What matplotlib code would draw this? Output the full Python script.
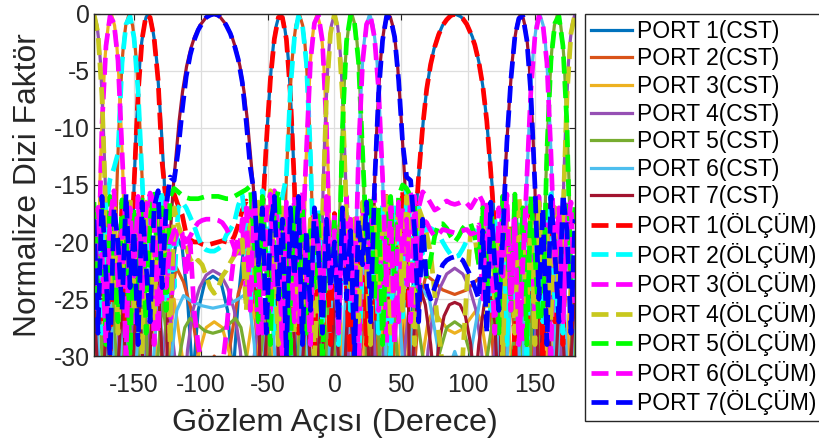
import numpy as np
import matplotlib
matplotlib.use('Agg')
import matplotlib.pyplot as plt

plt.rcParams['font.family'] = ['Liberation Sans', 'DejaVu Sans']
plt.rcParams['axes.unicode_minus'] = False

# CST simulation curves, (angle [deg], normalized array factor [dB])
port1_cst = [(-180, -25.5), (-179.6, -25), (-174.3, -36), (-169, -23), (-163.6, -36), (-158.1, -20), (-152.4, -36),
             (-151.8, -25), (-150.8, -19), (-149.9, -14.6), (-148.5, -10.5), (-147.2, -7.5), (-145.7, -4.3), (-144.3, -2.5),
             (-142.5, -1), (-141, -0.3), (-139.6, 0), (-138.1, -0.3), (-136.5, -1), (-134.5, -2.5), (-132.9, -4.3),
             (-131, -7.5), (-129.4, -10.5), (-127.4, -14.6), (-126.1, -19), (-124.6, -25), (-123.6, -36),
             (-121, -22), (-118, -19.5), (-114, -20.5), (-110, -25), (-106, -32), (-102, -26), (-97, -23.5), (-91, -23),
             (-85, -23.5), (-80, -26), (-76, -32), (-72, -25), (-68, -20.5), (-64, -19.5), (-60, -22), (-56.4, -36),
             (-55.4, -25), (-53.9, -19), (-52.6, -14.6), (-50.6, -10.5), (-49, -7.5), (-47.1, -4.3), (-45.5, -2.5),
             (-43.5, -1), (-41.9, -0.3), (-40.4, 0), (-38.9, -0.3), (-37.5, -1), (-35.7, -2.5), (-34.3, -4.3),
             (-32.8, -7.5), (-31.5, -10.5), (-30.1, -14.6), (-29.2, -19), (-28.2, -25), (-27.6, -36),
             (-21.9, -20), (-16.4, -36), (-11, -23), (-5.7, -36), (-0.4, -25), (4.8, -36), (10.1, -26), (15.5, -36),
             (21, -25), (26.7, -36), (32.8, -23), (39.3, -36), (46.4, -20.5), (55.5, -36),
             (58.6, -24.5), (60.4, -19), (62.3, -15.2), (64.2, -12.6), (66.5, -9.3), (68.8, -6.8), (71.6, -4.6),
             (74.4, -3.1), (77.2, -2.0), (80.9, -1.0), (85.6, -0.25), (90.2, 0), (94.8, -0.25), (99.5, -1.0),
             (103.2, -2.0), (106, -3.1), (108.8, -4.6), (111.6, -6.8), (113.9, -9.3), (116.2, -12.6), (118.1, -15.2),
             (120, -19), (121.8, -24.5), (123.2, -36),
             (133.6, -20), (140.7, -36), (147.2, -23), (153.3, -36), (159, -25), (164.5, -36), (169.9, -26),
             (175.2, -36), (180, -25.5)]

port2_cst = [(-180, -24), (-179.2, -24), (-175.6, -36), (-170.3, -21), (-165, -36),
             (-164.4, -25), (-163.6, -19), (-162.7, -14.6), (-161.5, -10.5), (-160.4, -7.5), (-159, -4.3),
             (-157.8, -2.5), (-156.2, -1), (-153.7, 0), (-151.1, -1), (-149.5, -2.5), (-148.1, -4.3), (-146.6, -7.5),
             (-145.4, -10.5), (-143.9, -14.6), (-142.9, -19), (-141.8, -25), (-141.2, -36),
             (-134.2, -21.5), (-126, -36), (-122, -25), (-118.5, -22.2), (-113, -23.5), (-107, -26), (-102, -30),
             (-97.3, -36), (-94, -31), (-90, -30), (-86, -31), (-82.7, -36), (-78, -29), (-72, -24.5), (-65, -22.2),
             (-60, -25), (-54, -36), (-45.9, -21), (-38.8, -36),
             (-38.2, -25), (-37.1, -19), (-36.1, -14.6), (-34.6, -10.5), (-33.4, -7.5), (-31.9, -4.3), (-30.5, -2.5),
             (-28.9, -1), (-26.3, 0), (-23.8, -1), (-22.2, -2.5), (-21, -4.3), (-19.6, -7.5), (-18.5, -10.5),
             (-17.3, -14.6), (-16.4, -19), (-15.6, -25), (-15, -36),
             (-9.7, -21), (-4.4, -36), (0.8, -21.5), (6.1, -36), (11.4, -23), (16.8, -36), (22.4, -24.5), (28.2, -36),
             (34.3, -25), (40.9, -36), (48.3, -23.5), (56.9, -36),
             (63, -26), (68.4, -22.9), (74, -23.4), (81, -24.2), (90, -24.6), (99, -24.2), (106, -23.4), (111, -22.9),
             (117, -26), (121.5, -36),
             (131.7, -23.5), (139.1, -36), (145.7, -25.5), (151.8, -36), (157.6, -24.5), (163.2, -36), (168.6, -22.5),
             (173.9, -36), (179.2, -24), (180, -24)]

port3_cst = [(-180, -24), (-177.6, -36),
             (-177.1, -25), (-176.3, -19), (-175.5, -14.6), (-174.3, -10.5), (-173.2, -7.5), (-172, -4.3),
             (-170.8, -2.5), (-169.3, -1), (-167, 0), (-164.6, -1), (-163.1, -2.5), (-161.9, -4.3), (-160.6, -7.5),
             (-159.5, -10.5), (-158.2, -14.6), (-157.4, -19), (-156.4, -25), (-155.9, -36),
             (-150, -22.5), (-143.8, -36), (-137, -24.5), (-129.3, -36), (-120.1, -25), (-106.7, -36),
             (-102, -30), (-96, -27.5), (-90, -27), (-84, -27.5), (-78, -30), (-73.3, -36),
             (-59.9, -25.5), (-50.7, -36), (-43, -23), (-36.2, -36), (-30, -21.5), (-24.1, -36),
             (-23.6, -25), (-22.6, -19), (-21.8, -14.6), (-20.5, -10.5), (-19.4, -7.5), (-18.1, -4.3), (-16.9, -2.5),
             (-15.4, -1), (-13, 0), (-10.7, -1), (-9.2, -2.5), (-8.05, -4.3), (-6.8, -7.5), (-5.7, -10.5),
             (-4.5, -14.6), (-3.7, -19), (-2.9, -25), (-2.4, -36),
             (2.8, -21.5), (8.1, -36), (13.4, -23), (18.9, -36), (24.6, -25.5), (30.5, -36), (36.8, -24.5),
             (43.6, -36), (51.4, -25.5), (60.8, -36),
             (66, -30), (70, -27), (74, -26), (79, -26.8), (85, -27.7), (90, -28), (95, -27.7), (101, -26.8),
             (106, -26), (110, -27), (114, -30), (119.2, -36),
             (128.6, -25), (136.4, -36), (143.2, -24), (149.5, -36), (155.5, -22.5), (161.1, -36), (166.6, -23),
             (171.9, -36), (177.2, -21.5), (180, -24)]

port4_cst = [(-180, 0), (-177.7, -1), (-176.3, -2.5), (-175.1, -4.3), (-173.9, -7.5), (-172.8, -10.5),
             (-171.6, -14.6), (-170.8, -19), (-169.9, -25), (-169.5, -36),
             (-164, -21.5), (-158.5, -36), (-152.7, -24), (-146.7, -36), (-140.2, -27), (-133, -36), (-124.5, -25),
             (-113.8, -36), (-110, -29.5), (-106, -26), (-101, -24), (-96, -22.9), (-91, -22.5), (-85, -22.9),
             (-80, -24), (-75, -26), (-70.5, -29.5), (-66.2, -36),
             (-55.5, -25.5), (-47, -36), (-39.8, -26), (-33.3, -36), (-27.3, -23.5), (-21.5, -36), (-16, -21),
             (-10.5, -36),
             (-10.1, -25), (-9.2, -19), (-8.4, -14.6), (-7.2, -10.5), (-6.1, -7.5), (-4.9, -4.3), (-3.7, -2.5),
             (-2.3, -1), (0, 0), (2.3, -1), (3.7, -2.5), (4.9, -4.3), (6.1, -7.5), (7.2, -10.5), (8.4, -14.6),
             (9.2, -19), (10.1, -25), (10.5, -36),
             (16, -21.5), (21.5, -36), (27.3, -24), (33.3, -36), (39.8, -25.5), (47, -36), (55.5, -26), (66.2, -36),
             (70, -29.5), (74, -26), (79, -24), (84, -22.8), (90, -22.3), (96, -22.8), (101, -24), (106, -26),
             (110, -29.5), (113.8, -36),
             (124.5, -24.5), (133, -36), (140.2, -26.5), (146.7, -36), (152.7, -23.5), (158.5, -36), (164, -21),
             (169.5, -36),
             (169.9, -25), (170.8, -19), (171.6, -14.6), (172.8, -10.5), (173.9, -7.5), (175.1, -4.3), (176.3, -2.5),
             (177.7, -1), (180, 0)]

port5_cst = [(-180, -24.5), (-177.2, -21), (-171.9, -36), (-166.6, -22.5), (-161.1, -36), (-155.5, -23),
             (-149.5, -36), (-143.2, -24), (-136.4, -36), (-128.6, -25), (-119.2, -36),
             (-116, -30), (-112, -27.5), (-108, -26.7), (-103, -27.2), (-97, -27.8), (-91, -28), (-85, -27.8),
             (-79, -27.2), (-74, -26.7), (-70, -27.5), (-66, -30), (-60.8, -36),
             (-51.4, -26), (-43.6, -36), (-36.8, -24), (-30.5, -36), (-24.6, -25), (-18.9, -36), (-13.4, -23.5),
             (-8.1, -36), (-2.8, -21), (2.4, -36),
             (2.9, -25), (3.7, -19), (4.5, -14.6), (5.7, -10.5), (6.8, -7.5), (8.05, -4.3), (9.2, -2.5), (10.7, -1),
             (13, 0), (15.4, -1), (16.9, -2.5), (18.1, -4.3), (19.4, -7.5), (20.5, -10.5), (21.8, -14.6),
             (22.6, -19), (23.6, -25), (24.1, -36),
             (30, -21), (36.2, -36), (43, -23.5), (50.7, -36), (59.9, -25), (73.3, -36),
             (78, -30), (84, -27.5), (90, -27), (96, -27.5), (102, -30), (106.7, -36),
             (120.1, -25.5), (129.3, -36), (137, -24), (143.8, -36), (150, -22), (155.9, -36),
             (156.4, -25), (157.4, -19), (158.2, -14.6), (159.5, -10.5), (160.6, -7.5), (161.9, -4.3), (163.1, -2.5),
             (164.6, -1), (167, 0), (169.3, -1), (170.8, -2.5), (172, -4.3), (173.2, -7.5), (174.3, -10.5),
             (175.5, -14.6), (176.3, -19), (177.1, -25), (177.6, -36), (180, -24.5)]

port6_cst = [(-180, -24), (-179.2, -24), (-173.9, -36), (-168.6, -23), (-163.2, -36), (-157.6, -25), (-151.8, -36),
             (-145.7, -26), (-139.1, -36), (-131.5, -24), (-125.5, -36),
             (-121, -29), (-118, -26), (-113, -24.7), (-107, -25.2), (-99, -25.6), (-91, -25.8), (-83, -25.6),
             (-75, -25.2), (-68, -24.7), (-63, -26), (-60, -29), (-56.9, -36),
             (-48.3, -24), (-40.9, -36), (-34.3, -25.5), (-28.2, -36), (-22.4, -24), (-16.8, -36), (-11.4, -22.5),
             (-6.1, -36), (-0.8, -21), (4.4, -36), (9.7, -20.5), (15, -36),
             (15.6, -25), (16.4, -19), (17.3, -14.6), (18.5, -10.5), (19.6, -7.5), (21, -4.3), (22.2, -2.5),
             (23.8, -1), (26.3, 0), (28.9, -1), (30.5, -2.5), (31.9, -4.3), (33.4, -7.5), (34.6, -10.5),
             (36.1, -14.6), (37.1, -19), (38.2, -25), (38.8, -36),
             (45.9, -21), (54, -36), (58, -28), (64.2, -24), (71, -25), (77, -29), (82.7, -36), (86, -31),
             (90, -29.6), (94, -31), (97.3, -36), (103, -29), (109, -25), (115.8, -24), (122, -28), (126, -36),
             (134.2, -21), (141.2, -36),
             (141.8, -25), (142.9, -19), (143.9, -14.6), (145.4, -10.5), (146.6, -7.5), (148.1, -4.3), (149.5, -2.5),
             (151.1, -1), (153.7, 0), (156.2, -1), (157.8, -2.5), (159, -4.3), (160.4, -7.5), (161.5, -10.5),
             (162.7, -14.6), (163.6, -19), (164.4, -25), (165, -36),
             (170.3, -20.5), (175.6, -36), (180, -24)]

port7_cst = [(-180, -25), (-175.2, -36), (-169.9, -26), (-164.5, -36), (-159, -25), (-153.3, -36), (-147.2, -23),
             (-140.7, -36), (-133.6, -20), (-126.2, -36),
             (-124.7, -24.5), (-122.7, -19), (-120.7, -15.2), (-118.7, -12.6), (-116.2, -9.3), (-113.7, -6.8),
             (-110.7, -4.6), (-107.7, -3.1), (-104.7, -2.0), (-100.7, -1.0), (-95.7, -0.25), (-90.7, 0),
             (-85.7, -0.25), (-80.7, -1.0), (-76.7, -2.0), (-73.7, -3.1), (-70.7, -4.6), (-67.7, -6.8),
             (-65.2, -9.3), (-62.7, -12.6), (-60.7, -15.2), (-58.7, -19), (-56.7, -24.5), (-55.2, -36),
             (-46.4, -20), (-39.3, -36), (-32.8, -23), (-26.7, -36), (-21, -25), (-15.5, -36), (-10.1, -26),
             (-4.8, -36), (0.4, -25), (5.7, -36), (11, -23), (16.4, -36), (21.9, -20), (27.6, -36),
             (28.2, -25), (29.2, -19), (30.1, -14.6), (31.5, -10.5), (32.8, -7.5), (34.3, -4.3), (35.7, -2.5),
             (37.5, -1), (38.9, -0.3), (40.4, 0), (41.9, -0.3), (43.5, -1), (45.5, -2.5), (47.1, -4.3), (49, -7.5),
             (50.6, -10.5), (52.6, -14.6), (53.9, -19), (55.4, -25), (56.4, -36),
             (60, -27), (64, -24), (68, -25.5), (72, -29), (75, -33), (78, -29), (82, -26.5), (86, -25.5),
             (90, -25.3), (94, -25.5), (98, -26.5), (102, -29), (105, -33), (108, -29), (112, -25.5), (116, -24),
             (120, -27), (123.6, -36),
             (124.6, -25), (126.1, -19), (127.4, -14.6), (129.4, -10.5), (131, -7.5), (132.9, -4.3), (134.5, -2.5),
             (136.5, -1), (138.1, -0.3), (139.6, 0), (141.1, -0.3), (142.5, -1), (144.3, -2.5), (145.7, -4.3),
             (147.2, -7.5), (148.5, -10.5), (149.9, -14.6), (150.8, -19), (151.8, -25), (152.4, -36),
             (158.1, -20), (163.6, -36), (169, -23), (174.3, -36), (179.6, -25), (180, -25)]

# measurement curves, sampled every 3 degrees from -180 to 180
meas_deg = np.arange(-180, 181, 3)

port1_meas = [-22, -17, -27, -19, -30, -18, -25, -16.5, -28, -24,
              -15, -7, -2.2, -0.1, -0.3, -2.1, -5.8, -13, -16.5, -16,
              -15.8, -16.8, -17.6, -19.3, -19.8, -20, -20, -20.2, -20.3, -20.2,
              -20.1, -20, -19.9, -20, -20.1, -19.5, -18.5, -17.2, -16.4, -17.5,
              -19, -27, -18, -11.3, -5.8, -2.2, -0.3, -0.3, -2.2, -7,
              -15, -28, -17, -25, -19, -30, -18, -26, -21, -29,
              -17.5, -27, -20, -24, -31, -18, -25, -19, -29, -16.5,
              -27, -18, -24, -16, -29, -17.5, -22, -15.5, -26, -18,
              -19.5, -14.2, -9.9, -6.6, -4.4, -2.9, -1.8, -1.0, -0.5, -0.15,
              0, -0.15, -0.4, -0.9, -1.7, -2.7, -4.2, -6.3, -9.4, -13.9,
              -19, -27, -16, -24, -18.5, -30, -17, -23, -28, -16.5,
              -25, -18, -31, -20, -16, -27, -19, -29, -17, -23,
              -22]

port2_meas = [-24, -17, -28, -17, -14.5, -13.5, -12.2, -4.3, -0.9, -0.2,
              -2.1, -6.7, -14.3, -22, -16, -27, -18, -15.5, -25, -19,
              -24, -17, -16.5, -17, -17.8, -18.6, -19.6, -20.4, -20.7, -20.8,
              -20.8, -20.6, -20.3, -19.4, -18.9, -18.3, -16.8, -15.9, -19, -26,
              -17, -24, -15.5, -22, -17, -28, -20, -16, -14.3, -6.6,
              -2.1, -0.2, -0.9, -4.3, -12.2, -24, -17, -27, -19, -23,
              -18.5, -29, -21, -17.5, -26, -19, -31, -22, -17, -25,
              -20, -28, -16.5, -23, -30, -17, -21, -27, -15.5, -19,
              -25, -17, -21, -18.8, -18.8, -19, -19.3, -20, -20.6, -21.1,
              -21.3, -21.2, -20.6, -19.9, -19.3, -19, -19.5, -22, -17, -26,
              -18, -23, -16, -29, -19.5, -25, -17, -21, -30, -18,
              -24, -16.5, -27, -20, -15.8, -26, -19, -28, -17.5, -22,
              -24]

port3_meas = [-19, -24, -9.7, -2.8, -0.2, -0.8, -4.1, -12, -20, -16.5,
              -27, -18, -22, -17, -15.8, -29, -19, -25, -16, -28,
              -20, -19, -19.2, -20, -19.5, -18.8, -18.3, -18.1, -18, -18,
              -18, -18.1, -18.3, -18.8, -19.5, -20.5, -21.5, -18, -25, -17,
              -22, -28, -16.5, -20, -26, -15.5, -19, -30, -17, -24,
              -16, -27, -20, -12, -4.2, -0.8, -0.1, -2.4, -9.9, -24,
              -17.5, -28, -20, -16, -25, -18, -31, -17, -23, -19,
              -15.8, -26, -18, -29, -16, -21, -27, -17, -24, -15.5,
              -27, -17, -15.6, -16, -16.6, -17.2, -17, -16.6, -16.4, -16.6,
              -16.7, -16.6, -16.4, -16.6, -17, -16.4, -15.8, -16.5, -24, -17,
              -21, -28, -16.5, -19, -25, -15.8, -22, -29, -17, -20,
              -26, -16, -23, -18, -30, -17, -20, -27, -16.5, -24,
              -19]

port4_meas = [0, -1.7, -7.2, -17.8, -24, -17, -28, -19, -23, -16,
              -26, -18, -30, -16.5, -21, -27, -17, -24, -19, -29,
              -17, -18.5, -19.5, -20.5, -21.5, -22, -21.6, -22, -23, -24,
              -24.5, -24, -23, -22.5, -21.8, -21.2, -20.6, -19.8, -26, -18,
              -23, -16.5, -27, -19, -15.5, -22, -29, -17, -25, -18,
              -28, -16, -21, -26, -18, -30, -23, -17.8, -7.2, -1.7,
              0, -1.7, -7.2, -17.8, -24, -18, -27, -16.5, -22, -29,
              -17, -24, -19, -15.8, -28, -20, -17, -26, -16, -22,
              -29, -17, -18, -19.3, -21, -24.5, -28, -31, -32, -32,
              -32, -31, -30, -24, -19, -19.5, -22, -17.5, -27, -16.5,
              -25, -19, -30, -17, -22, -28, -16, -20, -26, -18,
              -29, -16.5, -23, -19, -27, -17, -24, -17.8, -7.2, -1.7,
              0]

port5_meas = [-16.5, -25, -17, -29, -16, -22, -27, -16.3, -19, -30,
              -17, -24, -16, -28, -18, -15.8, -23, -17, -26, -16,
              -15.3, -15.6, -15.9, -16.1, -16.2, -16.2, -16.2, -16.1, -16, -16,
              -16, -16, -16.1, -16.2, -16.2, -16, -15.8, -15.6, -15.4, -15.1,
              -20, -27, -16, -22, -29, -17, -15.5, -25, -18, -30,
              -17, -23, -16.5, -28, -19, -24, -17.5, -31, -20, -24,
              -18, -24, -9.9, -2.4, -0.1, -0.8, -4.2, -12, -20, -16,
              -25, -17, -29, -19, -16, -24, -16, -15, -15.3, -16,
              -17, -25, -19, -23, -21.5, -19.5, -18.4, -18.4, -18.8, -19.5,
              -20, -19.5, -18.8, -18.4, -18.4, -19.5, -22, -17, -25, -16.5,
              -22, -28, -16, -19, -26, -15.8, -24, -17, -29, -16,
              -21, -27, -26, -12, -4.1, -0.8, -0.2, -2.8, -9.7, -24,
              -16.5]

port6_meas = [-26, -17, -21, -29, -18, -15.5, -24, -19, -30, -17,
              -23, -16, -25, -17, -15.7, -16.5, -28, -18, -24, -20,
              -19, -18.8, -19.2, -23, -20, -26, -29, -31, -32, -33,
              -33, -32, -31, -28, -24, -21, -19.5, -19, -17, -26,
              -16, -22, -28, -17.5, -15.8, -24, -19, -30, -16.5, -21,
              -27, -18, -15.5, -23, -29, -17, -20, -26, -16, -24,
              -19, -28, -17, -22, -18, -26, -12.2, -4.3, -0.9, -0.2,
              -2.1, -6.6, -14.3, -24, -17, -29, -16.5, -21, -18, -27,
              -16, -24, -18, -18.3, -19, -19.5, -19.3, -18.9, -19, -19.1,
              -19.2, -19.1, -19, -18.9, -19.3, -19.2, -18.5, -25, -16.5, -21,
              -28, -17, -23, -15.8, -26, -18, -29, -22, -14.3, -6.7,
              -2.0, -0.2, -0.9, -4.3, -12.2, -22, -17, -27, -19, -16.5,
              -26]

port7_meas = [-18, -28, -16, -23, -30, -17, -20, -26, -15.8, -24,
              -19, -29, -16.5, -22, -27, -17, -15.5, -24, -17, -14.3,
              -14.6, -12, -8.5, -5.5, -3.6, -2.3, -1.4, -0.8, -0.3, -0.1,
              0, -0.1, -0.4, -1.0, -1.7, -2.7, -4.0, -6.0, -9.5, -13.5,
              -15.8, -22, -17, -28, -19, -16, -25, -18, -30, -17,
              -23, -16, -29, -19, -26, -17, -21, -28, -18, -24,
              -20, -27, -17, -25, -19, -30, -18, -22, -16.5, -27,
              -15, -7, -2.3, -0.2, -0.4, -2.0, -5.8, -11.3, -14.3, -14.6,
              -19, -27, -18, -24, -25, -24, -23, -22, -21.6, -21.4,
              -21.3, -21.4, -21.6, -22.3, -23, -24, -25, -19, -28, -16.5,
              -22, -26, -19.5, -11.3, -5.8, -2.0, -0.4, -0.2, -2.3, -7,
              -15, -25, -17, -29, -16, -21, -27, -15.8, -19, -28,
              -18]

cst_curves = [port1_cst, port2_cst, port3_cst, port4_cst, port5_cst, port6_cst, port7_cst]
meas_curves = [port1_meas, port2_meas, port3_meas, port4_meas, port5_meas, port6_meas, port7_meas]

cst_colors = ['#0072BD', '#D95319', '#EDB120', '#9650B4', '#77AC30', '#4DBEEE', '#A2142F']
meas_colors = ['#FF0000', '#00FFFF', '#FF00FF', '#C8C81E', '#00FF00', '#FF00FF', '#0000FF']

fig = plt.figure(figsize=(8.2, 4.41), dpi=100)
ax = fig.add_axes([0.1146, 0.1927, 0.5866, 0.7756])

for i, curve in enumerate(cst_curves):
    pts = np.array(curve)
    ax.plot(pts[:, 0], pts[:, 1], color=cst_colors[i], lw=2.3, label='PORT %d(CST)' % (i + 1))

for i, vals in enumerate(meas_curves):
    ax.plot(meas_deg, vals, color=meas_colors[i], lw=3.4, dashes=(3.6, 1.6),
            label='PORT %d(ÖLÇÜM)' % (i + 1))

ax.set_xlim(-180, 180)
ax.set_ylim(-30, 0)
ax.set_xticks([-150, -100, -50, 0, 50, 100, 150])
ax.set_yticks(np.arange(-30, 1, 5))
ax.set_axisbelow(True)
ax.grid(True, color='#dedede', lw=0.9)
ax.tick_params(direction='in', labelsize=17.8, colors='#262626', length=4, top=True, right=True)
ax.tick_params(axis='x', pad=12)
ax.tick_params(axis='y', pad=3)
for sp in ax.spines.values():
    sp.set_color('#262626')
    sp.set_linewidth(1.0)

ax.set_xlabel('Gözlem Açısı (Derece)', fontsize=23.3, color='#262626', labelpad=8)
ax.set_ylabel('Normalize Dizi Faktör', fontsize=22.9, color='#262626', labelpad=8)

leg = ax.legend(loc='upper left', bbox_to_anchor=(0.7134, 0.968), bbox_transform=fig.transFigure,
                fontsize=16.5, handlelength=1.8, handletextpad=0.2, labelspacing=0.2,
                borderpad=0.25, borderaxespad=0, fancybox=False, edgecolor='#262626', framealpha=1)
leg.get_frame().set_linewidth(1.0)

fig.savefig('out.png', dpi=100)
